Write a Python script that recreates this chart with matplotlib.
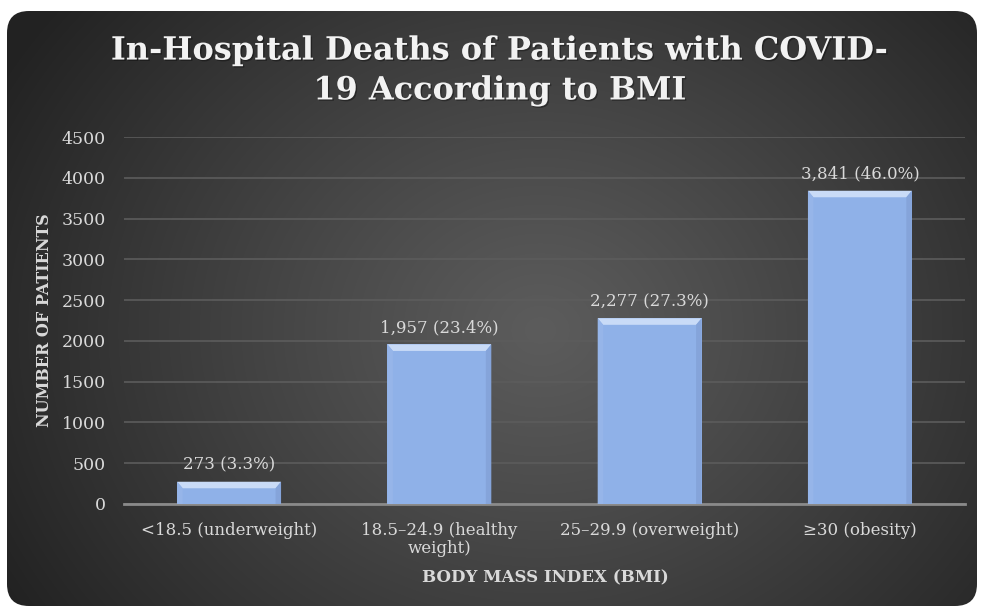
"""In-hospital deaths of COVID-19 patients by BMI — dark bevel bar chart."""

import matplotlib
matplotlib.use("Agg")
import matplotlib.pyplot as plt
import matplotlib.patheffects as pe
import numpy as np
from matplotlib.patches import FancyBboxPatch, Polygon

# --- Datos ---
categories = ["<18.5 (underweight)", "18.5\u201324.9 (healthy\nweight)",
              "25\u201329.9 (overweight)", "\u226530 (obesity)"]
deaths = [273, 1957, 2277, 3841]
percents = [3.3, 23.4, 27.3, 46.0]
yticks = [0, 500, 1000, 1500, 2000, 2500, 3000, 3500, 4000, 4500]

W, H = 981, 613
SERIF = ["DejaVu Serif"]
TXT = "#d9d9d9"
BAR = "#8fb1e8"

fig = plt.figure(figsize=(W / 100, H / 100), dpi=100)
fig.patch.set_facecolor("white")

# --- Fondo: gradiente radial dentro de un rectángulo redondeado ---
bg = fig.add_axes([0, 0, 1, 1], zorder=-5)
bg.set_xlim(0, W)
bg.set_ylim(H, 0)
bg.axis("off")
yy, xx = np.mgrid[0:H, 0:W]
r = np.hypot((xx - 540) / 1.0, (yy - 330) / 0.85)
r = np.clip(r / 620, 0, 1)
shade = (92 - 58 * r ** 1.1) / 255
img = np.dstack([shade, shade, shade])
im = bg.imshow(img, extent=(0, W, H, 0), interpolation="bilinear")
box = FancyBboxPatch((7, 11), W - 11, H - 18, boxstyle="round,pad=0,rounding_size=22",
                     transform=bg.transData, facecolor="none", edgecolor="none")
bg.add_patch(box)
im.set_clip_path(box)

# --- Ejes ---
ax = fig.add_axes([124 / W, 1 - 504 / H, (965 - 124) / W, (504 - 137) / H])
ax.set_facecolor("none")
x = np.arange(len(categories))
width = 0.494
bars = ax.bar(x, deaths, width=width, color=BAR, zorder=3)

# bisel: borde superior claro y laterales algo más oscuros
bx = 0.026
by = 80
for b in bars:
    x0, x1 = b.get_x(), b.get_x() + b.get_width()
    h = b.get_height()
    bv = min(by, h * 0.3)
    ax.add_patch(Polygon([(x0, h), (x1, h), (x1 - bx, h - bv), (x0 + bx, h - bv)],
                         closed=True, facecolor="#c9dbf7", edgecolor="none", zorder=4))
    ax.add_patch(Polygon([(x0, 0), (x0, h), (x0 + bx, h - bv), (x0 + bx, 0)],
                         closed=True, facecolor="#96b5e9", edgecolor="none", zorder=4))
    ax.add_patch(Polygon([(x1, 0), (x1, h), (x1 - bx, h - bv), (x1 - bx, 0)],
                         closed=True, facecolor="#85a4da", edgecolor="none", zorder=4))

for xi, d, p in zip(x, deaths, percents):
    ax.text(xi, d + 100, f"{d:,} ({p:.1f}%)", ha="center", va="bottom",
            color=TXT, fontsize=12, family=SERIF)

ax.set_xlim(-0.5, len(categories) - 0.5)
ax.set_ylim(0, 4500)
ax.set_yticks(yticks)
ax.set_yticklabels([str(v) for v in yticks], color=TXT, fontsize=12.5, family=SERIF)
ax.set_xticks(x)
ax.set_xticklabels(categories, color=TXT, fontsize=12, family=SERIF, linespacing=1.05)
ax.tick_params(axis="y", length=0, pad=13)
ax.tick_params(axis="x", length=0, pad=13)
ax.grid(True, axis="y", color="#5c5c5c", lw=1.2, zorder=0)
for s in ["top", "right", "left"]:
    ax.spines[s].set_visible(False)
ax.spines["bottom"].set_color("#8a8a8a")
ax.spines["bottom"].set_linewidth(2)

fig.text(45 / W, 1 - 320 / H, "NUMBER OF PATIENTS", rotation=90, ha="center", va="center",
         color=TXT, fontsize=11.5, fontweight="bold", family=SERIF)
fig.text(545 / W, 1 - 578 / H, "BODY MASS INDEX (BMI)", ha="center", va="center",
         color=TXT, fontsize=12, fontweight="bold", family=SERIF)
title = fig.text(500 / W, 1 - 71 / H,
                 "In-Hospital Deaths of Patients with COVID-\n19 According to BMI",
                 ha="center", va="center", color="#f2f2f2", fontsize=23, fontweight="bold",
                 family=SERIF, linespacing=1.37)
title.set_path_effects([pe.withSimplePatchShadow(offset=(1, -1), shadow_rgbFace="black",
                                                 alpha=0.35)])

fig.savefig("out.png", dpi=100)
